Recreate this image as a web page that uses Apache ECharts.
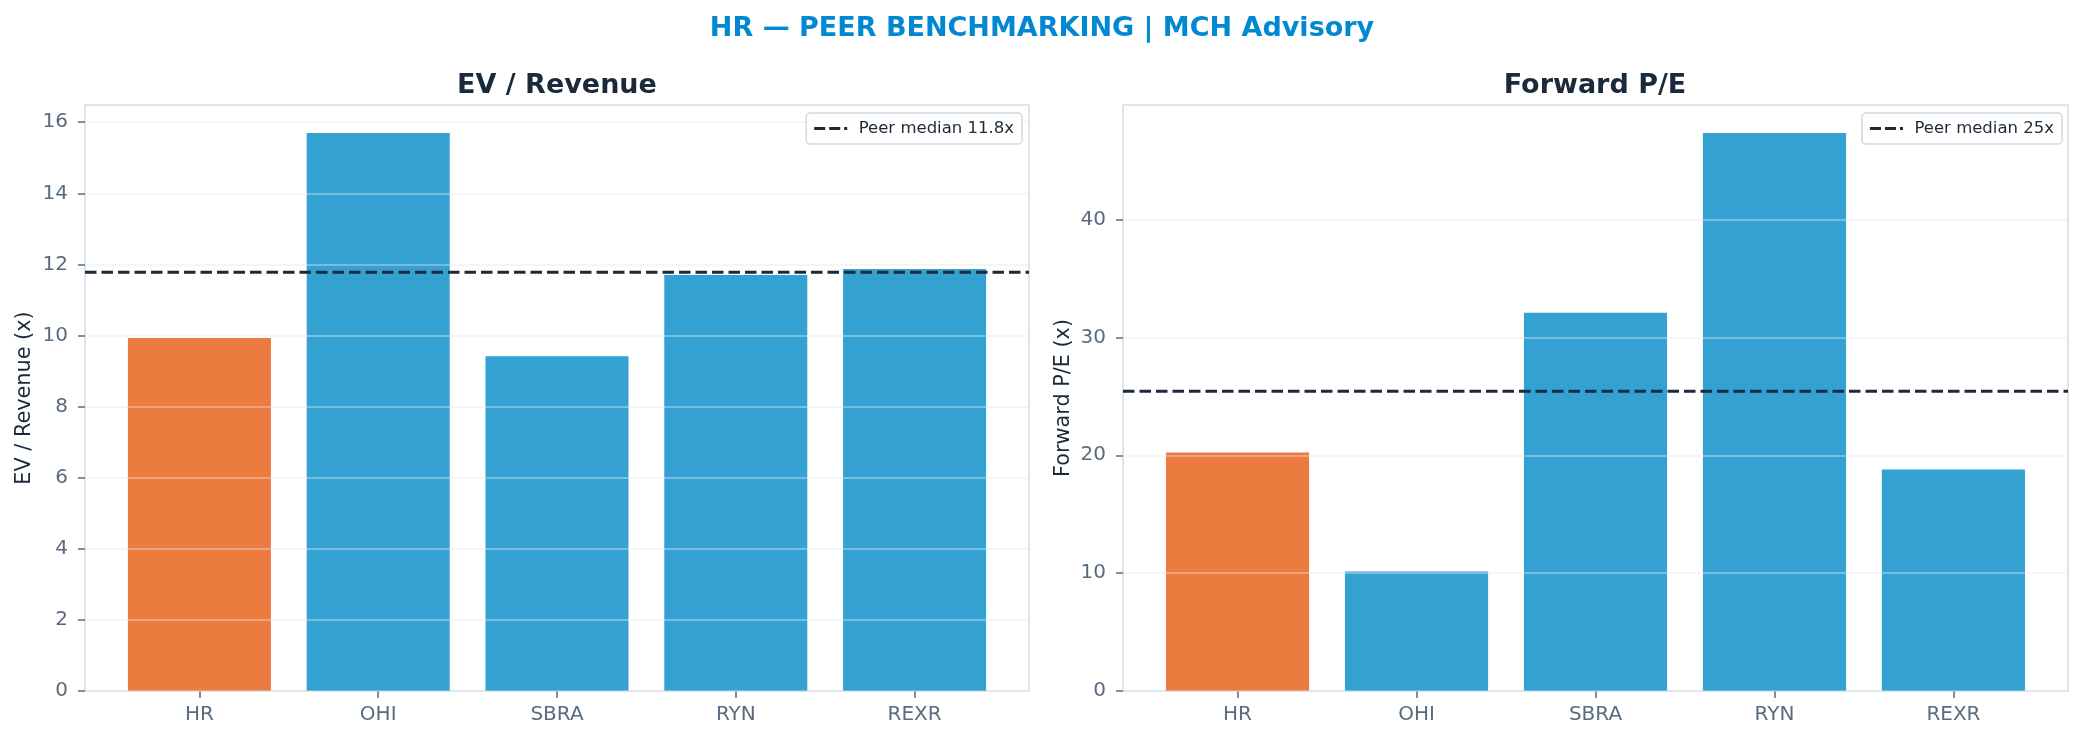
<!DOCTYPE html>
<html>
<head>
<meta charset="utf-8">
<script src="https://cdn.jsdelivr.net/npm/echarts@6/dist/echarts.min.js"></script>
<style>
  html, body { margin: 0; padding: 0; background: #fff; }
  #main { width: 2084px; height: 741px; }
</style>
</head>
<body>
<div id="main"></div>
<script>
    // data
    var categories = ['HR', 'OHI', 'SBRA', 'RYN', 'REXR'];
    var evRevenue = [9.93, 15.70, 9.42, 11.70, 11.87];
    var forwardPE = [20.23, 10.14, 32.09, 47.35, 18.79];
    var peerMedian = [11.78, 25.44];
    var evTicks = [0, 2, 4, 6, 8, 10, 12, 14, 16];
    var peTicks = [0, 10, 20, 30, 40];
    var catTicks = [0, 1, 2, 3, 4];

    var FONT = 'DejaVu Sans';
    var DARK = '#1B2A3A';
    var TICK = '#5A6B7F';
    var FRAME = '#D5DDE6';
    var ORANGE = '#EC7B3F';
    var BLUE = '#33A2D3';

    var chart = echarts.init(document.getElementById('main'));

    // plot frames (px)
    var grids = [
        { left: 85, top: 105, width: 944, height: 586 },
        { left: 1123, top: 105, width: 945, height: 586 }
    ];
    var xMin = -0.64, xMax = 4.64;

    function barColor(i) {
        return categories[i] === 'HR' ? ORANGE : BLUE;
    }

    function makeX(idx) {
        return {
            type: 'value', gridIndex: idx, min: xMin, max: xMax,
            splitLine: { show: false },
            axisLine: { show: false, onZero: false },
            axisTick: { show: true, customValues: catTicks, length: 7, lineStyle: { color: TICK, width: 1.5 } },
            axisLabel: {
                customValues: catTicks, margin: 14, fontFamily: FONT, fontSize: 20, color: TICK,
                formatter: function (v) { return categories[Math.round(v)]; }
            }
        };
    }

    function makeY(idx, name, ticks, vals, gap) {
        return {
            type: 'value', gridIndex: idx, min: 0, max: Math.max.apply(null, vals) * 1.05,
            z: 3,
            name: name, nameLocation: 'middle', nameGap: gap,
            nameTextStyle: { fontFamily: FONT, fontSize: 20.8, color: DARK },
            axisLine: { show: false, onZero: false },
            axisTick: { show: true, customValues: ticks, length: 7, lineStyle: { color: TICK, width: 1.5 } },
            axisLabel: { customValues: ticks, margin: 17, fontFamily: FONT, fontSize: 20, color: TICK },
            splitLine: { show: true, lineStyle: { color: 'rgba(225,230,236,0.4)', width: 2 } }
        };
    }

    function makeBars(idx, vals) {
        var bw = 0.8 * grids[idx].width / (xMax - xMin);
        return {
            type: 'bar', xAxisIndex: idx, yAxisIndex: idx, barWidth: bw,
            data: vals.map(function (v, i) {
                return { value: [i, v], itemStyle: { color: barColor(i) } };
            }),
            silent: true
        };
    }

    function makeMedian(idx, label) {
        return {
            type: 'line', name: label, xAxisIndex: idx, yAxisIndex: idx, z: 4,
            color: DARK, showSymbol: false, silent: true,
            lineStyle: { color: DARK, width: 3, type: [11.5, 5] },
            data: [[xMin, peerMedian[idx]], [xMax, peerMedian[idx]]]
        };
    }

    var medLabels = [
        'Peer median ' + peerMedian[0].toFixed(1) + 'x',
        'Peer median ' + peerMedian[1].toFixed(0) + 'x'
    ];

    var dashIcon = 'path://M0,0h11v3h-11z M15,0h11v3h-11z M30,0h3v3h-3z';

    function makeLegend(idx, right) {
        return {
            data: [medLabels[idx]], right: right, top: 113,
            icon: dashIcon, itemWidth: 34, itemHeight: 3, itemGap: 0,
            padding: [7, 8, 7, 8],
            borderColor: '#D0D7DE', borderWidth: 1.5, borderRadius: 4,
            backgroundColor: 'rgba(255,255,255,0.9)',
            textStyle: { fontFamily: FONT, fontSize: 16.5, color: DARK, padding: [0, 0, 0, 6] },
            selectedMode: false
        };
    }

    var option = {
        backgroundColor: '#fff',
        animation: false,
        title: [
            {
                text: 'HR — PEER BENCHMARKING | MCH Advisory', left: 1042, top: 13, textAlign: 'center', padding: 0,
                textStyle: { fontFamily: FONT, fontSize: 27, fontWeight: 'bold', color: '#0288D1', lineHeight: 32 }
            },
            {
                text: 'EV / Revenue', left: 557, top: 70, textAlign: 'center', padding: 0,
                textStyle: { fontFamily: FONT, fontSize: 27, fontWeight: 'bold', color: DARK, lineHeight: 32 }
            },
            {
                text: 'Forward P/E', left: 1595, top: 70, textAlign: 'center', padding: 0,
                textStyle: { fontFamily: FONT, fontSize: 27, fontWeight: 'bold', color: DARK, lineHeight: 32 }
            }
        ],
        legend: [makeLegend(0, 2084 - 1022), makeLegend(1, 2084 - 2062)],
        grid: grids.map(function (g) {
            return {
                left: g.left, top: g.top, width: g.width, height: g.height,
                show: true, borderColor: FRAME, borderWidth: 1.5, backgroundColor: '#fff'
            };
        }),
        xAxis: [makeX(0), makeX(1)],
        yAxis: [
            makeY(0, 'EV / Revenue (x)', evTicks, evRevenue, 50),
            makeY(1, 'Forward P/E (x)', peTicks, forwardPE, 49)
        ],
        series: [
            makeBars(0, evRevenue),
            makeBars(1, forwardPE),
            makeMedian(0, medLabels[0]),
            makeMedian(1, medLabels[1])
        ]
    };

    chart.setOption(option);
</script>
</body>
</html>
